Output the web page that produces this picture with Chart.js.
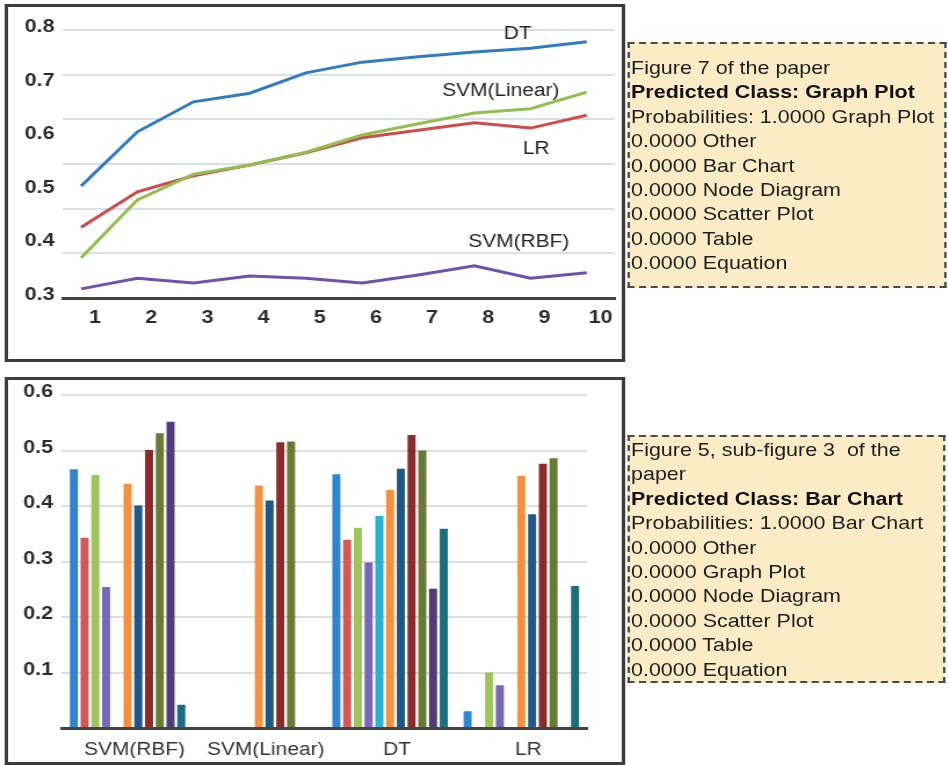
<!DOCTYPE html>
<html>
<head>
<meta charset="utf-8">
<script src="https://cdn.jsdelivr.net/npm/chart.js@4.4.1/dist/chart.umd.min.js"></script>
<style>
  html, body { margin: 0; padding: 0; background: #fff; overflow: hidden; width: 948px; height: 765px; }
  #page { position: absolute; left: 0; top: 0; width: 818px; height: 765px; transform: scaleX(1.16); transform-origin: 0 0; }
  .panel { position: absolute; box-sizing: border-box; border: 3px solid #3d3d3d; background: #fff; }
  .note { position: absolute; box-sizing: border-box; border: 2px dashed #4a4a4a; background: #fcecc6;
          font: 18.5px 'Liberation Sans', Arial, sans-serif; color: #1e1e1e; line-height: 24.4px;
          white-space: pre; padding-left: 1.5px; overflow: hidden; }
  .note b { font-weight: bold; color: #111; }
  canvas { position: absolute; }
</style>
</head>
<body>
<div id="page">
  <div class="panel" style="left:4.3px;top:4px;width:535px;height:358px"></div>
  <div class="panel" style="left:4.3px;top:377px;width:534.5px;height:388px"></div>
  <canvas id="lineChart" width="540" height="360" style="left:0;top:0;width:540px;height:360px"></canvas>
  <canvas id="barChart" width="540" height="395" style="left:0;top:370px;width:540px;height:395px"></canvas>
  <div class="note" style="left:540.5px;top:42px;width:275px;height:246px;padding-top:12px">Figure 7 of the paper
<b>Predicted Class: Graph Plot</b>
Probabilities: 1.0000 Graph Plot
0.0000 Other
0.0000 Bar Chart
0.0000 Node Diagram
0.0000 Scatter Plot
0.0000 Table
0.0000 Equation</div>
  <div class="note" style="left:540.5px;top:435px;width:274px;height:248px;padding-top:1px">Figure 5, sub-figure 3  of the
paper
<b>Predicted Class: Bar Chart</b>
Probabilities: 1.0000 Bar Chart
0.0000 Other
0.0000 Graph Plot
0.0000 Node Diagram
0.0000 Scatter Plot
0.0000 Table
0.0000 Equation</div>
</div>

<script>
// ---- Line chart: score vs. step for each classifier ----
const steps = [1, 2, 3, 4, 5, 6, 7, 8, 9, 10];
const stepLabels = ['1', '2', '3', '4', '5', '6', '7', '8', '9', '10'];
const dtScores        = [0.509, 0.610, 0.666, 0.682, 0.720, 0.740, 0.750, 0.759, 0.766, 0.778];
const lrScores        = [0.432, 0.498, 0.528, 0.548, 0.571, 0.599, 0.613, 0.627, 0.617, 0.641];
const svmLinearScores = [0.375, 0.483, 0.531, 0.548, 0.572, 0.604, 0.625, 0.645, 0.653, 0.684];
const svmRbfScores    = [0.317, 0.337, 0.328, 0.341, 0.337, 0.328, 0.343, 0.360, 0.337, 0.347];
const lineYLabels = ['0.3', '0.4', '0.5', '0.6', '0.7', '0.8'];

// ---- Bar chart: per-run scores grouped by classifier ----
const classifiers = ['SVM(RBF)', 'SVM(Linear)', 'DT', 'LR'];
const run1  = [0.466, null,  0.457, 0.030];
const run2  = [0.343, null,  0.339, null ];
const run3  = [0.456, null,  0.361, 0.100];
const run4  = [0.254, null,  0.298, 0.077];
const run5  = [null,  null,  0.382, null ];
const run6  = [0.440, 0.437, 0.429, 0.454];
const run7  = [0.401, 0.410, 0.467, 0.385];
const run8  = [0.501, 0.515, 0.528, 0.476];
const run9  = [0.531, 0.516, 0.500, 0.486];
const run10 = [0.552, null,  0.251, null ];
const run11 = [0.042, null,  0.359, 0.256];

const FONT = "'Liberation Sans', Arial, sans-serif";
const pts = arr => arr.map((v, i) => ({ x: steps[i], y: v }));

// Writes each series name next to its line, placed in data units.
const seriesNames = {
  id: 'seriesNames',
  afterDatasetsDraw(chart) {
    const { ctx, scales: { x, y } } = chart;
    ctx.save();
    ctx.font = '18px ' + FONT;
    ctx.fillStyle = '#232323';
    ctx.textAlign = 'center';
    ctx.textBaseline = 'middle';
    chart.data.datasets.forEach(ds => {
      const [vx, vy] = ds.nameAt;
      ctx.fillText(ds.label, x.getPixelForValue(vx), y.getPixelForValue(vy));
    });
    ctx.restore();
  }
};

const lineDs = (label, data, color, nameAt) => ({
  label, data: pts(data), borderColor: color, backgroundColor: color,
  borderWidth: 3, pointRadius: 0, tension: 0, nameAt
});

new Chart(document.getElementById('lineChart'), {
  type: 'line',
  data: {
    datasets: [
      lineDs('DT', dtScores, '#2f7cc4', [8.77, 0.792]),
      lineDs('SVM(Linear)', svmLinearScores, '#93bf4f', [8.47, 0.686]),
      lineDs('LR', lrScores, '#d04b4b', [9.10, 0.577]),
      lineDs('SVM(RBF)', svmRbfScores, '#6e52b2', [8.79, 0.404])
    ]
  },
  options: {
    responsive: false,
    animation: false,
    layout: { padding: { left: 0, right: 10, top: 30, bottom: 22 } },
    plugins: { legend: { display: false }, tooltip: { enabled: false } },
    scales: {
      x: {
        type: 'linear', min: 0.67, max: 10.5,
        afterBuildTicks: s => { s.ticks = steps.map(v => ({ value: v })); },
        afterFit: s => { s.height = 40; },
        grid: { display: false, drawTicks: false },
        border: { display: true, color: '#444', width: 3 },
        ticks: {
          callback: (v, i) => stepLabels[i],
          font: { family: FONT, size: 18.5, weight: 'bold' }, color: '#2b2b2b',
          padding: 9, labelOffset: 12, maxRotation: 0, autoSkip: false
        }
      },
      yGrid: {
        position: 'left', min: 0.3, max: 0.8,
        afterBuildTicks: s => { s.ticks = [0, 1, 2, 3, 4, 5, 6].map(k => ({ value: 0.3 + k * 0.5 / 6 })); },
        afterFit: s => { s.width = 0; },
        grid: { color: '#dbe0e4', lineWidth: 2, drawTicks: false },
        border: { display: false },
        ticks: { display: false }
      },
      y: {
        position: 'left', min: 0.3, max: 0.8,
        afterBuildTicks: s => { s.ticks = lineYLabels.map(t => ({ value: parseFloat(t) })); },
        afterFit: s => { s.width = 54; },
        grid: { display: false, drawTicks: false },
        border: { display: false },
        ticks: {
          callback: (v, i) => lineYLabels[i],
          font: { family: FONT, size: 18.5, weight: 'bold' }, color: '#2b2b2b',
          padding: 7, labelOffset: -3
        }
      }
    }
  },
  plugins: [seriesNames]
});

const barColors = ['#2c86d1', '#d65555', '#9dc55a', '#7b67b7', '#29b2d4', '#f5913e',
                   '#1e5788', '#8a2b2b', '#667b37', '#4e3d78', '#1b6e7e'];
const runs = [run1, run2, run3, run4, run5, run6, run7, run8, run9, run10, run11];

new Chart(document.getElementById('barChart'), {
  type: 'bar',
  data: {
    labels: classifiers,
    datasets: runs.map((r, i) => ({
      label: 'Run ' + (i + 1), data: r, backgroundColor: barColors[i],
      categoryPercentage: 0.9, barPercentage: 0.75
    }))
  },
  options: {
    responsive: false,
    animation: false,
    layout: { padding: { left: 0, right: 34, top: 25, bottom: 7 } },
    plugins: { legend: { display: false }, tooltip: { enabled: false } },
    scales: {
      x: {
        afterFit: s => { s.height = 30; },
        grid: { display: false, drawTicks: false },
        border: { display: true, color: '#444', width: 3 },
        ticks: {
          font: { family: FONT, size: 18 }, color: '#333',
          padding: 11, labelOffset: 6, maxRotation: 0, autoSkip: false
        }
      },
      y: {
        min: 0, max: 0.6,
        afterFit: s => { s.width = 53.4; },
        grid: { color: '#dbe0e4', lineWidth: 2, drawTicks: false },
        border: { display: false },
        ticks: {
          stepSize: 0.1,
          callback: v => (Math.abs(v) < 1e-9 ? '' : v.toFixed(1)),
          font: { family: FONT, size: 18.5, weight: 'bold' }, color: '#2b2b2b',
          padding: 7.7, labelOffset: -3
        }
      }
    }
  }
});
</script>
</body>
</html>
